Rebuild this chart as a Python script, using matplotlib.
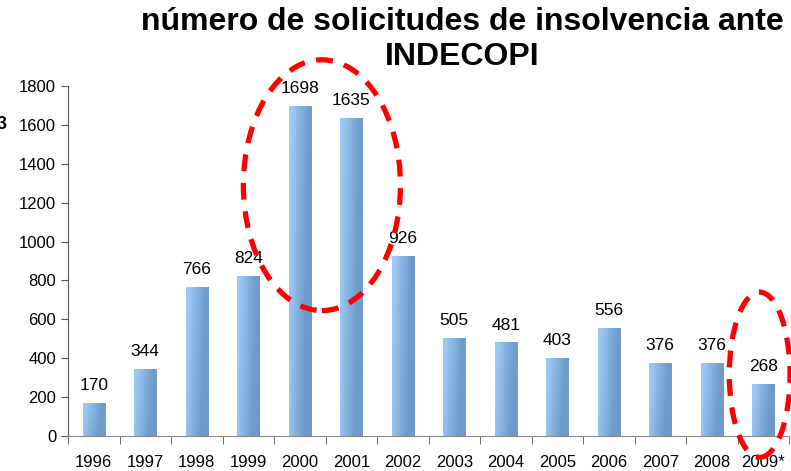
import numpy as np
import matplotlib.pyplot as plt
from matplotlib.patches import Ellipse

plt.rcParams['font.family'] = ['Liberation Sans', 'DejaVu Sans']

# datos
years = ['1996', '1997', '1998', '1999', '2000', '2001', '2002',
         '2003', '2004', '2005', '2006', '2007', '2008', '2009*']
solicitudes = [170, 344, 766, 824, 1698, 1635, 926,
               505, 481, 403, 556, 376, 376, 268]

fig = plt.figure(figsize=(7.91, 4.71), dpi=100)
ax = fig.add_axes([0.086, 0.0743, 0.9115, 0.743])

x = np.arange(len(years))
bars = ax.bar(x, solicitudes, width=0.43, color='#84AEDD', zorder=2)

# degradado diagonal en cada barra
grad = np.linspace(0, 1, 64)
gx, gy = np.meshgrid(grad, grad)
g = np.clip(gx * 1.4 - gy * 0.3 + 0.1, 0, 1)
cmap = plt.matplotlib.colors.LinearSegmentedColormap.from_list(
    'azul', ['#9CC8F4', '#6F9BCB'])
for b in bars:
    x0, y0 = b.get_x(), b.get_y()
    im = ax.imshow(g, cmap=cmap, extent=[x0, x0 + b.get_width(), y0, y0 + b.get_height()],
                   aspect='auto', origin='lower', zorder=3)
    im.set_clip_path(b)
    ax.annotate(str(int(b.get_height())), (x0 + b.get_width() / 2, b.get_height()),
                xytext=(0, 7), textcoords='offset points', ha='center', va='bottom',
                fontsize=12.5, zorder=5)

ax.set_xlim(-0.5, len(years) - 0.5)
ax.set_ylim(0, 1800)
ax.set_yticks(range(0, 1801, 200))
ax.set_xticks(x)
ax.set_xticklabels(years, fontsize=12)
ax.tick_params(axis='y', labelsize=12, direction='out', length=5, color='#555555')
ax.set_xticks(np.arange(-0.5, len(years)), minor=True)
ax.tick_params(axis='x', which='major', length=0, pad=14)
ax.tick_params(axis='x', which='minor', direction='out', length=6, color='#555555')

for s in ['top', 'right']:
    ax.spines[s].set_visible(False)
ax.spines['left'].set_color('#555555')
ax.spines['bottom'].set_color('#888888')

# elipses rojas punteadas
e1 = Ellipse((4.43, 1290), 3.05, 1290, fill=False, edgecolor='#FF0000',
             lw=3.8, ls=(0, (3.2, 2.2)), clip_on=False, zorder=6)
e2 = Ellipse((12.93, 315), 1.18, 850, fill=False, edgecolor='#FF0000',
             lw=3.8, ls=(0, (3.2, 2.2)), clip_on=False, zorder=6)
ax.add_patch(e1)
ax.add_patch(e2)

fig.text(0.584, 0.985, 'número de solicitudes de insolvencia ante\nINDECOPI',
         ha='center', va='top', fontsize=23, fontweight='bold', linespacing=1.2)
fig.text(-0.004, 0.735, '3', fontsize=13, fontweight='bold', va='center')

fig.savefig('out.png', dpi=100)
